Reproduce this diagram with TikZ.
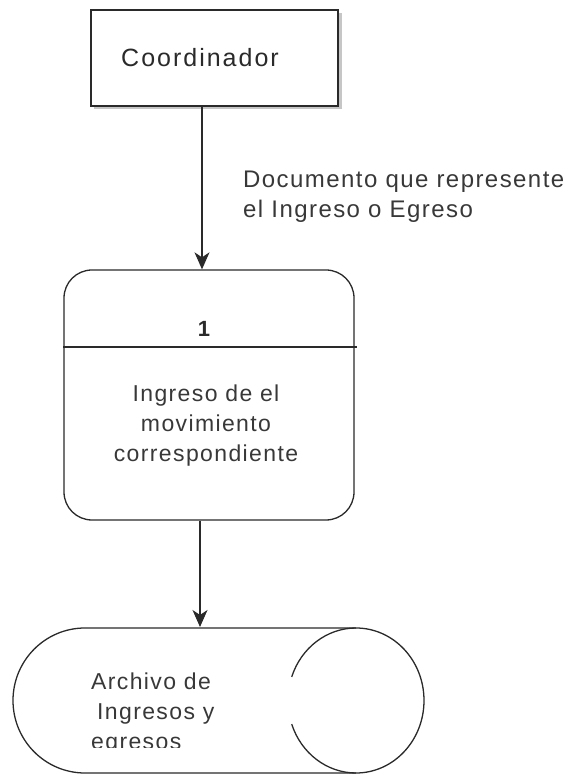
\documentclass[tikz,border=0pt]{standalone}
\usepackage{fontspec}
\setmainfont{Liberation Sans}
\usetikzlibrary{arrows.meta}
\definecolor{ink}{HTML}{2A2A2A}
\definecolor{txt}{HTML}{383838}
\tikzset{
  line/.style={draw=ink, line width=1.3pt},
  flow/.style={draw=ink, line width=1.1pt, -{Stealth[length=17pt,width=15pt,inset=5pt]}},
  body/.style={text=txt, inner sep=0pt, font=\fontsize{23}{30}\selectfont\addfontfeatures{LetterSpace=6}},
}
\begin{document}
\begin{tikzpicture}[x=1pt,y=1pt]
\useasboundingbox (0,0) rectangle (567,774);
% external entity with shadow
\fill[gray!45] (94,665) rectangle (342,761);
\node[line, line width=1.6pt, fill=white, minimum width=247pt, minimum height=96pt, inner sep=0pt]
      (coord) at (214.5,716) {};
\node[text=ink, inner sep=0pt, anchor=base, font=\fontsize{25}{30}\selectfont\addfontfeatures{LetterSpace=8}]
      (coordtxt) at (200,707) {Coordinador};
% process
\node[line, rounded corners=28pt, minimum width=290pt, minimum height=250pt, inner sep=0pt]
      (proc) at (209,379) {};
\draw[line, line width=1.1pt] (proc.west |- 0,427) coordinate (divl) -- (357,427) coordinate (divr);
\node[text=ink, inner sep=0pt, anchor=base, font=\fontsize{22}{24}\selectfont\bfseries] (num) at (204,437) {1};
\node[body, anchor=base] (p1) at (206,372) {Ingreso de el};
\node[body, anchor=base] (p2) at (206,342) {movimiento};
\node[body, anchor=base] (p3) at (206,312) {correspondiente};
% data store
\coordinate (stTL) at (85,146);
\coordinate (stTR) at (356,146);
\draw[line] (stTL) -- (stTR) arc[start angle=90, end angle=-90, x radius=68, y radius=72.5]
      -- (85,1) arc[start angle=270, end angle=90, x radius=72, y radius=72.5] -- cycle;
\draw[line] (stTR) arc[start angle=90, end angle=161, x radius=68, y radius=72.5];
\draw[line] (356,1) arc[start angle=270, end angle=199, x radius=68, y radius=72.5];
\node[body, anchor=base west] (s1) at (91,84) {Archivo de};
\node[body, anchor=base west] (s2) at (97,54) {Ingresos y};
\begin{scope}
\clip (0,26) rectangle (567,60);
\node[body, anchor=base west] (s3) at (91,24) {egresos};
\end{scope}
% label
\node[body, anchor=base west, font=\fontsize{24}{30}\selectfont\addfontfeatures{LetterSpace=6}] (l1) at (243,586) {Documento que represente};
\node[body, anchor=base west, font=\fontsize{24}{30}\selectfont\addfontfeatures{LetterSpace=6}] (l2) at (243,556) {el Ingreso o Egreso};
% flows
\coordinate (a1s) at (coord.south -| 202,0);
\coordinate (a1e) at (proc.north -| 202,0);
\draw[flow] (a1s) -- (a1e);
\coordinate (a2s) at (proc.south -| 200,0);
\coordinate (a2e) at (200,147);
\draw[flow] (a2s) -- (a2e);
\end{tikzpicture}
\end{document}
